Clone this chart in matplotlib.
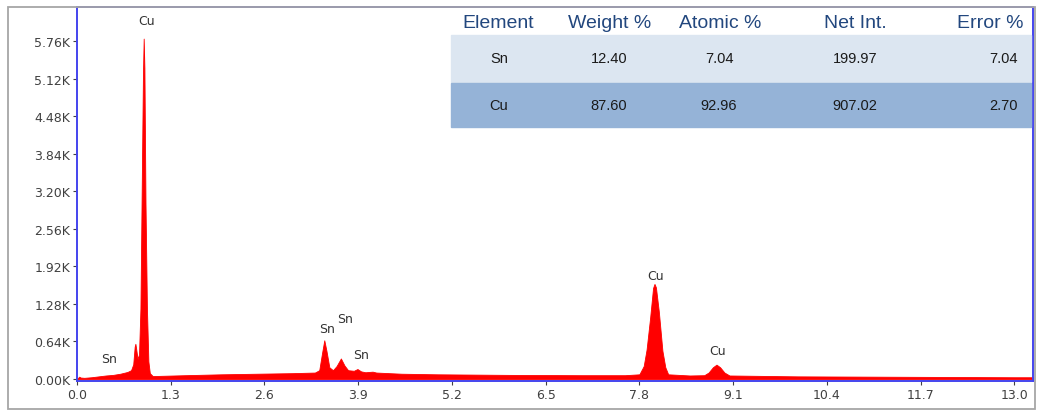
import matplotlib
matplotlib.use("Agg")
import matplotlib.pyplot as plt
from matplotlib.patches import Rectangle
from matplotlib.ticker import FixedLocator, FuncFormatter

# spectrum (energy in keV, counts)
energy = [0.00, 0.03, 0.05, 0.10, 0.20, 0.30, 0.40, 0.50, 0.60, 0.70, 0.75,
          0.78, 0.80, 0.81, 0.82, 0.84, 0.86, 0.88, 0.90, 0.915, 0.925, 0.935,
          0.95, 0.97, 0.99, 1.01, 1.05, 1.20, 1.50, 2.00, 2.50, 3.00, 3.30,
          3.36, 3.40, 3.43, 3.46, 3.50, 3.55, 3.60, 3.66, 3.71, 3.76, 3.84,
          3.89, 3.94, 4.00, 4.10, 4.15, 4.50, 5.00, 6.00, 7.00, 7.60, 7.80,
          7.86, 7.90, 7.95, 7.99, 8.01, 8.03, 8.07, 8.12, 8.16, 8.20, 8.50,
          8.70, 8.76, 8.82, 8.87, 8.92, 8.98, 9.05, 10.0, 11.0, 12.0, 13.0, 13.26]
counts = [0, 40, 25, 20, 30, 45, 60, 70, 90, 120, 150,
          250, 550, 600, 520, 340, 420, 1200, 3500, 5200, 5800, 5300,
          3000, 1200, 300, 100, 50, 55, 65, 80, 90, 100, 110,
          150, 450, 660, 480, 200, 150, 220, 350, 230, 150, 140,
          170, 130, 115, 125, 110, 90, 80, 70, 65, 65, 80,
          220, 500, 1050, 1550, 1620, 1560, 1150, 480, 200, 80, 60,
          65, 110, 200, 245, 200, 110, 60, 45, 40, 35, 30, 30]

# peak labels
peak_names = ["Sn", "Cu", "Sn", "Sn", "Sn", "Cu", "Cu"]
peak_pos = [0.44, 0.96, 3.47, 3.72, 3.94, 8.03, 8.89]
peak_lab_y = [341, 6100, 869, 1039, 426, 1772, 494]

# quantification table
columns = ["Element", "Weight %", "Atomic %", "Net Int.", "Error %"]
elements = ["Sn", "Cu"]
weight = ["12.40", "87.60"]
atomic = ["7.04", "92.96"]
net_int = ["199.97", "907.02"]
error = ["7.04", "2.70"]

W, H = 1038, 414
fig = plt.figure(figsize=(W / 100, H / 100), dpi=100)
fig.patch.set_facecolor("white")


def fx(px):
    return px / W


def fy(py):
    return 1 - py / H


# outer frame
fig.patches.append(Rectangle((fx(8), fy(410)), fx(1027), (402) / H, transform=fig.transFigure,
                             fill=False, edgecolor="#a6a6a6", lw=1.3))

ax = fig.add_axes([fx(77), fy(382), fx(1033) - fx(77), fy(7.5) - fy(382)])
ax.fill_between(energy, counts, 0, color="#ff0000", lw=0.6, edgecolor="#ff0000")
ax.set_xlim(0, 13.26)
ax.set_ylim(-34, 6347)

ax.xaxis.set_major_locator(FixedLocator([1.3 * i for i in range(11)]))
ax.xaxis.set_major_formatter(FuncFormatter(lambda v, p: f"{v:.1f}"))
ax.yaxis.set_major_locator(FixedLocator([640 * i for i in range(10)]))
ax.yaxis.set_major_formatter(FuncFormatter(lambda v, p: f"{v / 1000:.2f}K"))
ax.tick_params(labelsize=9, colors="#404040", length=3, width=0.8, pad=2)
for s in ax.spines.values():
    s.set_color("#4444ee")
    s.set_linewidth(1.4)

for name, x, y in zip(peak_names, peak_pos, peak_lab_y):
    ax.text(x, y, name, ha="center", va="center", fontsize=9, color="#333333")

# table
fig.patches.append(Rectangle((fx(451), fy(83)), fx(1031) - fx(451), 47 / H,
                             transform=fig.transFigure, color="#dce6f1", zorder=3))
fig.patches.append(Rectangle((fx(451), fy(128)), fx(1031) - fx(451), 44 / H,
                             transform=fig.transFigure, color="#95b3d7", zorder=3))

col_x = [498, 610, 720, 855, 990]
val_x = [499, 609, 719, 855, 1004]
for c, x in zip(columns, col_x):
    fig.text(fx(x), fy(23), c, ha="center", va="center", fontsize=14,
             color="#22477e", family="Liberation Sans", zorder=4)
rows = list(zip(elements, weight, atomic, net_int, error))
for row, y in zip(rows, [59, 106]):
    for v, x in zip(row, val_x):
        fig.text(fx(x), fy(y), v, ha="center", va="center", fontsize=10.5,
                 color="#1a1a1a", family="Liberation Sans", zorder=4)

fig.savefig("out.png", dpi=100)
